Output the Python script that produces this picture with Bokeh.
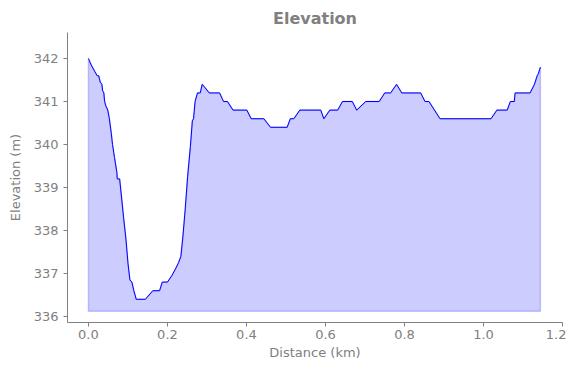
from bokeh.plotting import figure
from bokeh.models import FixedTicker, NumeralTickFormatter, Range1d
from bokeh.embed import file_html
from bokeh.resources import INLINE

# Distance along the route (km) and elevation (m)
dist = [0.000, 0.007, 0.016, 0.022, 0.026, 0.030, 0.034, 0.036, 0.039, 0.041,
        0.044, 0.049, 0.053, 0.058, 0.061, 0.066, 0.072, 0.073, 0.079, 0.083,
        0.089, 0.095, 0.100, 0.105, 0.110, 0.115, 0.121, 0.144, 0.163, 0.180,
        0.187, 0.200, 0.211, 0.220, 0.228, 0.234, 0.239, 0.245, 0.251, 0.258,
        0.263, 0.266, 0.270, 0.276, 0.283, 0.288, 0.306, 0.332, 0.342, 0.352,
        0.366, 0.401, 0.412, 0.444, 0.461, 0.503, 0.511, 0.520, 0.535, 0.588,
        0.596, 0.611, 0.631, 0.643, 0.668, 0.679, 0.702, 0.736, 0.750, 0.765,
        0.780, 0.793, 0.841, 0.852, 0.862, 0.890, 1.019, 1.034, 1.060, 1.068,
        1.078, 1.080, 1.118, 1.129, 1.136, 1.139, 1.144]
elev = [342.0, 341.85, 341.7, 341.6, 341.6, 341.45, 341.4, 341.25, 341.2, 341.0,
        340.9, 340.8, 340.6, 340.25, 340.0, 339.7, 339.35, 339.2, 339.2, 338.85,
        338.3, 337.8, 337.25, 336.85, 336.8, 336.6, 336.4, 336.4, 336.6, 336.6,
        336.8, 336.8, 336.95, 337.1, 337.25, 337.4, 337.85, 338.5, 339.25, 339.95,
        340.55, 340.6, 341.0, 341.2, 341.2, 341.4, 341.2, 341.2, 341.0, 341.0,
        340.8, 340.8, 340.6, 340.6, 340.4, 340.4, 340.6, 340.6, 340.8, 340.8,
        340.6, 340.8, 340.8, 341.0, 341.0, 340.8, 341.0, 341.0, 341.2, 341.2,
        341.4, 341.2, 341.2, 341.0, 341.0, 340.6, 340.6, 340.8, 340.8, 341.0,
        341.0, 341.2, 341.2, 341.4, 341.6, 341.65, 341.8]
baseline = 336.12

x_ticks = [0.0, 0.2, 0.4, 0.6, 0.8, 1.0, 1.2]
y_ticks = [336, 337, 338, 339, 340, 341, 342]

GRAY = "#808080"
FONT = "DejaVu Sans"

p = figure(width=566, height=362, output_backend="svg", toolbar_location=None,
           title="Elevation",
           x_range=Range1d(-0.053, 1.2), y_range=Range1d(335.86, 342.605),
           min_border_left=67, min_border_right=4, min_border_top=32,
           min_border_bottom=0)

# filled area
px = list(dist) + list(reversed(dist))
py = list(elev) + [baseline] * len(dist)
p.patch(px, py, fill_color="blue", fill_alpha=0.2, line_color="blue",
        line_alpha=0.2, line_width=1.5)
p.line(dist, elev, line_color="blue", line_width=1)

p.title.align = "center"
p.title.text_font = FONT
p.title.text_font_size = "16px"
p.title.text_font_style = "bold"
p.title.text_color = GRAY

p.xgrid.visible = False
p.ygrid.visible = False
p.outline_line_color = None

p.xaxis.ticker = FixedTicker(ticks=x_ticks)
p.xaxis.formatter = NumeralTickFormatter(format="0.0")
p.yaxis.ticker = FixedTicker(ticks=y_ticks)
p.xaxis.axis_label = "Distance (km)"
p.yaxis.axis_label = "Elevation (m)"

for ax in (p.xaxis, p.yaxis):
    ax.axis_line_color = GRAY
    ax.major_tick_line_color = GRAY
    ax.major_tick_out = 4
    ax.major_tick_in = 0
    ax.minor_tick_line_color = None
    ax.major_label_text_font = FONT
    ax.major_label_text_font_size = "13px"
    ax.major_label_text_color = GRAY
    ax.axis_label_text_font = FONT
    ax.axis_label_text_font_size = "13px"
    ax.axis_label_text_color = GRAY
    ax.axis_label_text_font_style = "normal"

p.xaxis.major_label_standoff = 3
p.xaxis.axis_label_standoff = 3
p.yaxis.major_label_standoff = 5
p.yaxis.axis_label_standoff = 8

p.yaxis.major_label_orientation = "horizontal"

open("out.html", "w").write(file_html(p, INLINE))
